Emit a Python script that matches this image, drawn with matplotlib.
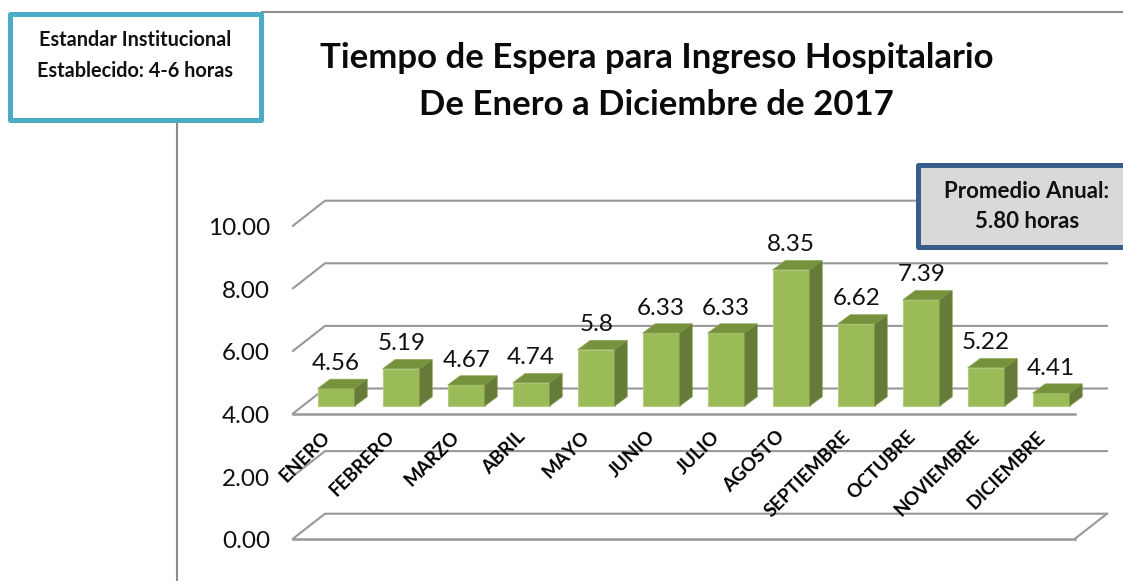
import matplotlib
matplotlib.use("Agg")
import matplotlib.pyplot as plt
from matplotlib.patches import Polygon, Rectangle
from matplotlib.transforms import Affine2D

plt.rcParams['font.family'] = ['Lato', 'DejaVu Sans']

months = ['ENERO', 'FEBRERO', 'MARZO', 'ABRIL', 'MAYO', 'JUNIO', 'JULIO', 'AGOSTO',
          'SEPTIEMBRE', 'OCTUBRE', 'NOVIEMBRE', 'DICIEMBRE']
values = [4.56, 5.19, 4.67, 4.74, 5.8, 6.33, 6.33, 8.35, 6.62, 7.39, 5.22, 4.41]
value_labels = ['4.56', '5.19', '4.67', '4.74', '5.8', '6.33', '6.33', '8.35', '6.62', '7.39', '5.22', '4.41']
ticks = [0, 2, 4, 6, 8, 10]
tick_labels = ['0.00', '2.00', '4.00', '6.00', '8.00', '10.00']
title_lines = ['Tiempo de Espera para Ingreso Hospitalario', 'De Enero a Diciembre de 2017']
standard_lines = ['Estandar Institucional', 'Establecido: 4-6 horas']
mean_lines = ['Promedio Anual:', '5.80 horas']
base = 4

W, H = 1123, 581
fig = plt.figure(figsize=(W / 100, H / 100), dpi=100)
ax = fig.add_axes([0, 0, 1, 1])
ax.axis('off')

# scale: one category = 65 px, one unit = 31.3 px
PX_X, PX_Y = 65.0, 31.3
ax.set_xlim(-336.2 / PX_X, (W - 336.2) / PX_X)
ax.set_ylim(base - (H - 406) / PX_Y, base + 406 / PX_Y)
px = Affine2D().scale(1, -1).translate(0, H)

GRID = '#989898'
FRONT, TOP, SIDE = '#9BBB59', '#76923C', '#667B38'
EDGE = '#B4CC82'

# wall / floor geometry, expressed in axis units
x_left = (293 - 336.2) / PX_X
x_right = (1075 - 336.2) / PX_X
dx_wall = 32 / PX_X
dy_wall = 25 / PX_Y
y_shift = -7.5 / PX_Y
for t in ticks:
    y = t + y_shift
    ax.plot([x_left, x_left + dx_wall, x_right + dx_wall], [y, y + dy_wall, y + dy_wall],
            color=GRID, lw=1.5, solid_joinstyle='miter', zorder=1)
for t in (0, base):
    y = t + y_shift
    ax.plot([x_left, x_right], [y, y], color=GRID, lw=1.8, zorder=1)
y0 = ticks[0] + y_shift
ax.plot([x_right, x_right + dx_wall], [y0, y0 + dy_wall], color=GRID, lw=1.5, zorder=1)

# bars
bw = 37 / PX_X
dx_bar = 12.5 / PX_X
dy_bar = 9.3 / PX_Y
xs = list(range(len(values)))
heights = [v - base for v in values]
ax.bar(xs, heights, bottom=base, width=bw, color=FRONT, edgecolor=EDGE, linewidth=0.8, zorder=3)
for x, v in zip(xs, values):
    l, r = x - bw / 2, x + bw / 2
    ax.add_patch(Polygon([(l, v), (r, v), (r + dx_bar, v + dy_bar), (l + dx_bar, v + dy_bar)],
                         closed=True, facecolor=TOP, edgecolor='#8CA652', lw=0.5, zorder=3))
    ax.add_patch(Polygon([(r, base), (r + dx_bar, base + dy_bar), (r + dx_bar, v + dy_bar), (r, v)],
                         closed=True, facecolor=SIDE, edgecolor='#7C9448', lw=0.5, zorder=3))

for x, v, s in zip(xs, values, value_labels):
    ax.text(x, v + 25 / PX_Y, s, ha='center', va='center', fontsize=17.5, color='#111111', zorder=5)

for t, s in zip(ticks, tick_labels):
    ax.annotate(s, xy=(x_left, t + y_shift), xytext=(-23, -3), textcoords='offset pixels',
                ha='right', va='center', fontsize=17.5, color='#111111', zorder=5)

for x, m in zip(xs, months):
    ax.annotate(m, xy=(x, base), xytext=(-9, -28), textcoords='offset pixels', rotation=45,
                rotation_mode='anchor', ha='right', va='center', fontsize=13.5,
                fontweight='bold', color='black', zorder=5)

# decorations in pixel coordinates
ax.plot([262, W], [12, 12], color='#8C8C8C', lw=1.5, transform=px, zorder=2)
ax.plot([177, 177], [122, H], color='#8C8C8C', lw=1.5, transform=px, zorder=2)

ax.add_patch(Rectangle((10, 13.5), 250.5, 106.5, transform=px, facecolor='white', edgecolor='#4BACC6',
                       lw=3.6, joinstyle='round', zorder=6))
for y, s in zip((40, 71), standard_lines):
    ax.text(135, y, s, transform=px, ha='center', va='center', fontsize=14.3, fontweight='bold',
            color='#111111', zorder=7)

ax.add_patch(Rectangle((917.5, 165), 230, 81.5, transform=px, facecolor='#D9D9D9', edgecolor='#385D8A',
                       lw=3.6, joinstyle='round', zorder=6))
for y, s in zip((192, 221), mean_lines):
    ax.text(1027, y, s, transform=px, ha='center', va='center', fontsize=16, fontweight='bold',
            color='#111111', zorder=7)

for y, s in zip((58, 105), title_lines):
    ax.text(656.5, y, s, transform=px, ha='center', va='center', fontsize=25, fontweight='bold',
            color='#0A0A0A', zorder=7)

fig.savefig('out.png', dpi=100, facecolor='white')
